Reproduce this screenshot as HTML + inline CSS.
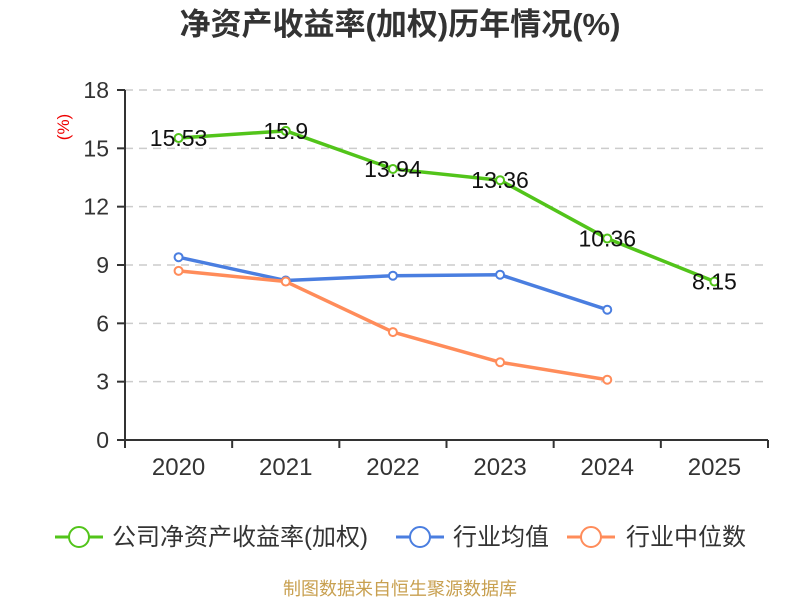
<!DOCTYPE html>
<html><head><meta charset="utf-8"><style>
body{margin:0;background:#fff;font-family:"Liberation Sans","Noto Sans CJK SC",sans-serif;}
</style></head><body>
<svg id="c" width="800" height="600" style="display:block">
<text x="400" y="35" text-anchor="middle" font-size="31" font-weight="bold" fill="#333">净资产收益率(加权)历年情况(%)</text>
<text transform="translate(69,127) rotate(-90)" text-anchor="middle" font-size="17" fill="#e00">(%)</text>
<g id="grid"></g><g id="axes"></g><g id="series"></g>
<g font-size="24" fill="#333">
<g><line x1="55" y1="537" x2="103" y2="537" stroke="#52c41a" stroke-width="3"/><circle cx="79" cy="537" r="10" fill="#fff" stroke="#52c41a" stroke-width="2"/><text x="112" y="545">公司净资产收益率(加权)</text></g>
<g><line x1="396" y1="537" x2="444" y2="537" stroke="#4a7ee0" stroke-width="3"/><circle cx="420" cy="537" r="10" fill="#fff" stroke="#4a7ee0" stroke-width="2"/><text x="453" y="545">行业均值</text></g>
<g><line x1="567" y1="537" x2="615" y2="537" stroke="#ff8c5a" stroke-width="3"/><circle cx="591" cy="537" r="10" fill="#fff" stroke="#ff8c5a" stroke-width="2"/><text x="626" y="545">行业中位数</text></g>
</g>
<text x="400" y="595" text-anchor="middle" font-size="18" fill="#c8a050">制图数据来自恒生聚源数据库</text>
</svg>
<script>
const categories=["2020","2021","2022","2023","2024","2025"];
const yTicks=[0,3,6,9,12,15,18];
const company=[15.53,15.9,13.94,13.36,10.36,8.15];
const industryAvg=[9.4,8.2,8.45,8.5,6.7];
const industryMedian=[8.7,8.15,5.55,4.0,3.1];
const NS="http://www.w3.org/2000/svg";
const L=125,R=768,T=90,B=440,yMax=18;
const bw=(R-L)/categories.length;
const x=i=>L+bw*(i+0.5);
const y=v=>B-(v/yMax)*(B-T);
function mk(tag,attrs,parent){const e=document.createElementNS(NS,tag);for(const k in attrs)e.setAttribute(k,attrs[k]);document.getElementById(parent).appendChild(e);return e;}
yTicks.forEach(t=>{
 if(t>0){const g=mk('line',{x1:L,x2:R,y1:y(t),y2:y(t),stroke:'#ccc','stroke-dasharray':'8,6','stroke-width':1.5},'grid');
 
 }
 const tk=mk('line',{x1:L-8,x2:L,y1:y(t),y2:y(t),stroke:'#333','stroke-width':2},'axes');
 
 
 const tl=mk('text',{x:L-16,y:y(t)+8,'text-anchor':'end','font-size':23,fill:'#333'},'axes');tl.textContent=t;
 
 
});
const ya=mk('line',{x1:L,x2:L,y1:T,y2:B,stroke:'#333','stroke-width':2},'axes');


const xa=mk('line',{x1:L,x2:R,y1:B,y2:B,stroke:'#333','stroke-width':2},'axes');


for(let i=0;i<=categories.length;i++){const t=mk('line',{x1:L+bw*i,x2:L+bw*i,y1:B,y2:B+8,stroke:'#333','stroke-width':2},'axes');
 
 }
categories.forEach((c,i)=>{const t=mk('text',{x:x(i),y:B+35,'text-anchor':'middle','font-size':24,fill:'#333'},'axes');t.textContent=c;
 
 });
function series(vals,color,name,labels){
 const p=mk('polyline',{points:vals.map((v,i)=>x(i)+','+y(v)).join(' '),fill:'none',stroke:color,'stroke-width':3.5,'stroke-linejoin':'round'},'series');
 
 
 vals.forEach((v,i)=>{const c=mk('circle',{cx:x(i),cy:y(v),r:4,fill:'#fff',stroke:color,'stroke-width':2},'series');
  
  
  if(labels){const t=mk('text',{x:x(i),y:y(v)+8,'text-anchor':'middle','font-size':23,fill:'#111'},'series');t.textContent=v;
   
   }
 });
}
series(industryAvg,'#4a7ee0','industry-average',false);
series(industryMedian,'#ff8c5a','industry-median',false);
series(company,'#52c41a','company-roe',true);
</script>
</body></html>
